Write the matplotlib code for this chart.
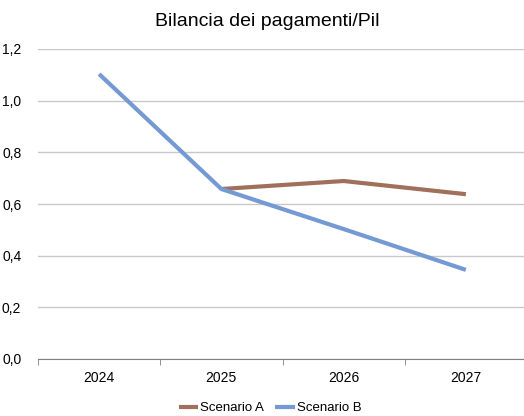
import matplotlib
matplotlib.use("Agg")
import matplotlib.pyplot as plt
import numpy as np

years = ["2024", "2025", "2026", "2027"]
scenario_a = [np.nan, 0.658, 0.689, 0.638]
scenario_b = [1.103, 0.658, 0.503, 0.345]
y_ticks = [0.0, 0.2, 0.4, 0.6, 0.8, 1.0, 1.2]
y_labels = ["0,0", "0,2", "0,4", "0,6", "0,8", "1,0", "1,2"]

plt.rcParams["font.family"] = ["Liberation Sans", "DejaVu Sans"]

fig = plt.figure(figsize=(5.24, 4.16), dpi=100)
ax = fig.add_axes([38 / 524, 1 - 359 / 416, 489 / 524, 310 / 416])

x = np.arange(len(years))
ax.plot(x, scenario_a, color="#A0705C", lw=3.0, label="Scenario A", solid_capstyle="butt")
ax.plot(x, scenario_b, color="#7599D3", lw=3.0, label="Scenario B", solid_capstyle="butt")

ax.set_xlim(-0.5, len(years) - 0.5)
ax.set_ylim(0, 1.2)
ax.set_yticks(y_ticks)
ax.set_yticklabels(y_labels, fontsize=10)
ax.set_xticks(x)
ax.set_xticklabels(years, fontsize=10)
ax.grid(axis="y", color="#C8C8C8", lw=1)
ax.set_axisbelow(True)
for s in ["top", "right", "left"]:
    ax.spines[s].set_visible(False)
ax.spines["bottom"].set_color("#808080")
ax.tick_params(axis="y", length=0, pad=12)
ax.tick_params(axis="x", length=0, pad=9)
# category boundary ticks below the axis
ax.set_xticks(np.arange(-0.5, len(years), 1.0), minor=True)
ax.tick_params(axis="x", which="minor", length=4, color="#808080", direction="out")

fig.text(0.51, 1 - 22 / 416, "Bilancia dei pagamenti/Pil", ha="center", va="center",
         fontsize=14)
fig.legend(loc="center", bbox_to_anchor=(0.515, 1 - 408 / 416), ncol=2, frameon=False,
           fontsize=9.5, handlelength=1.5, handletextpad=0.15, columnspacing=0.8)

fig.savefig("out.png", dpi=100)
